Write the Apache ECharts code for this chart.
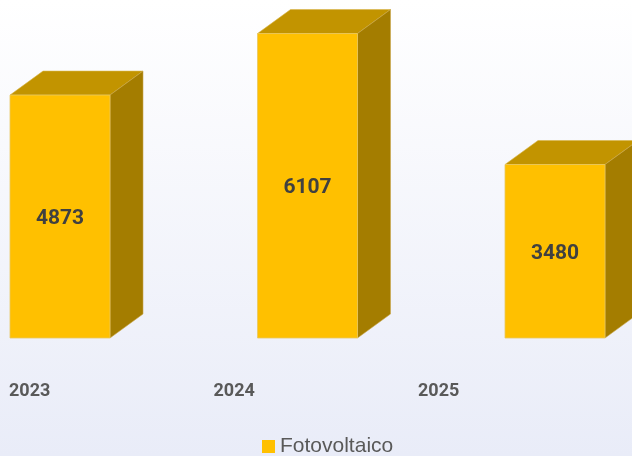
<!DOCTYPE html>
<html>
<head>
<meta charset="utf-8">
<script src="https://cdn.jsdelivr.net/npm/echarts@6/dist/echarts.min.js"></script>
<style>
  html, body { margin: 0; padding: 0; }
  #chart { width: 632px; height: 456px; }
</style>
</head>
<body>
<div id="chart"></div>
<script>
// dati
const years = ["2023", "2024", "2025"];
const fotovoltaico = [4873, 6107, 3480];
const seriesName = "Fotovoltaico";

const FRONT = "#FFC000";
const TOP = "#C29400";
const SIDE = "#A47D00";
const BAR_W = 100; // larghezza faccia frontale
const DX = 33, DY = -24; // profondità 3d

const chart = echarts.init(document.getElementById("chart"));

function renderBar(params, api) {
  const idx = api.value(0);
  const val = api.value(1);
  const top = api.coord([idx, val]);
  const base = api.coord([idx, 0]);
  const x0 = top[0] - BAR_W / 2;
  const x1 = top[0] + BAR_W / 2;
  const y0 = top[1];
  const y1 = base[1];
  return {
    type: "group",
    children: [
      {
        type: "polygon",
        shape: { points: [[x0, y0], [x1, y0], [x1 + DX, y0 + DY], [x0 + DX, y0 + DY]] },
        style: { fill: TOP, stroke: "#D9B54A", lineWidth: 0.6 }
      },
      {
        type: "polygon",
        shape: { points: [[x1, y0], [x1 + DX, y0 + DY], [x1 + DX, y1 + DY], [x1, y1]] },
        style: { fill: SIDE, stroke: "#C9A64A", lineWidth: 0.6 }
      },
      {
        type: "rect",
        shape: { x: x0, y: y0, width: BAR_W, height: y1 - y0 },
        style: { fill: FRONT, stroke: "#E8C860", lineWidth: 0.8 }
      },
      {
        type: "text",
        x: top[0],
        y: (y0 + y1) / 2 + 2,
        style: {
          text: String(val),
          fill: "#404040",
          font: "bold 21px Roboto, sans-serif",
          align: "center",
          verticalAlign: "middle"
        }
      }
    ]
  };
}

chart.setOption({
  animation: false,
  backgroundColor: new echarts.graphic.LinearGradient(0, 0, 0, 1, [
    { offset: 0, color: "#FFFFFF" },
    { offset: 1, color: "#E9ECF8" }
  ]),
  legend: {
    left: 262,
    top: 436,
    padding: 0,
    icon: "rect",
    itemWidth: 13,
    itemHeight: 13,
    textStyle: { color: "#595959", fontSize: 21, fontFamily: "Liberation Sans" },
    data: [seriesName]
  },
  grid: [
    { left: 60, right: 77, top: 0, bottom: 118 },
    { left: 9, width: 409, top: 0, bottom: 118 }
  ],
  xAxis: [
    {
      gridIndex: 0,
      type: "category",
      data: years,
      boundaryGap: false,
      show: false
    },
    {
      gridIndex: 1,
      type: "category",
      data: years,
      boundaryGap: false,
      axisLine: { show: false },
      axisTick: { show: false },
      axisLabel: {
        align: "left",
        verticalAlign: "middle",
        margin: 53,
        color: "#595959",
        fontSize: 18,
        fontWeight: "bold",
        fontFamily: "Roboto"
      }
    }
  ],
  yAxis: [
    { gridIndex: 0, type: "value", min: 0, max: 6780, show: false },
    { gridIndex: 1, type: "value", min: 0, max: 6780, show: false }
  ],
  series: [
    {
      name: seriesName,
      type: "custom",
      xAxisIndex: 0,
      yAxisIndex: 0,
      itemStyle: { color: FRONT },
      renderItem: renderBar,
      data: fotovoltaico.map((v, i) => [i, v])
    }
  ]
});
</script>
</body>
</html>
